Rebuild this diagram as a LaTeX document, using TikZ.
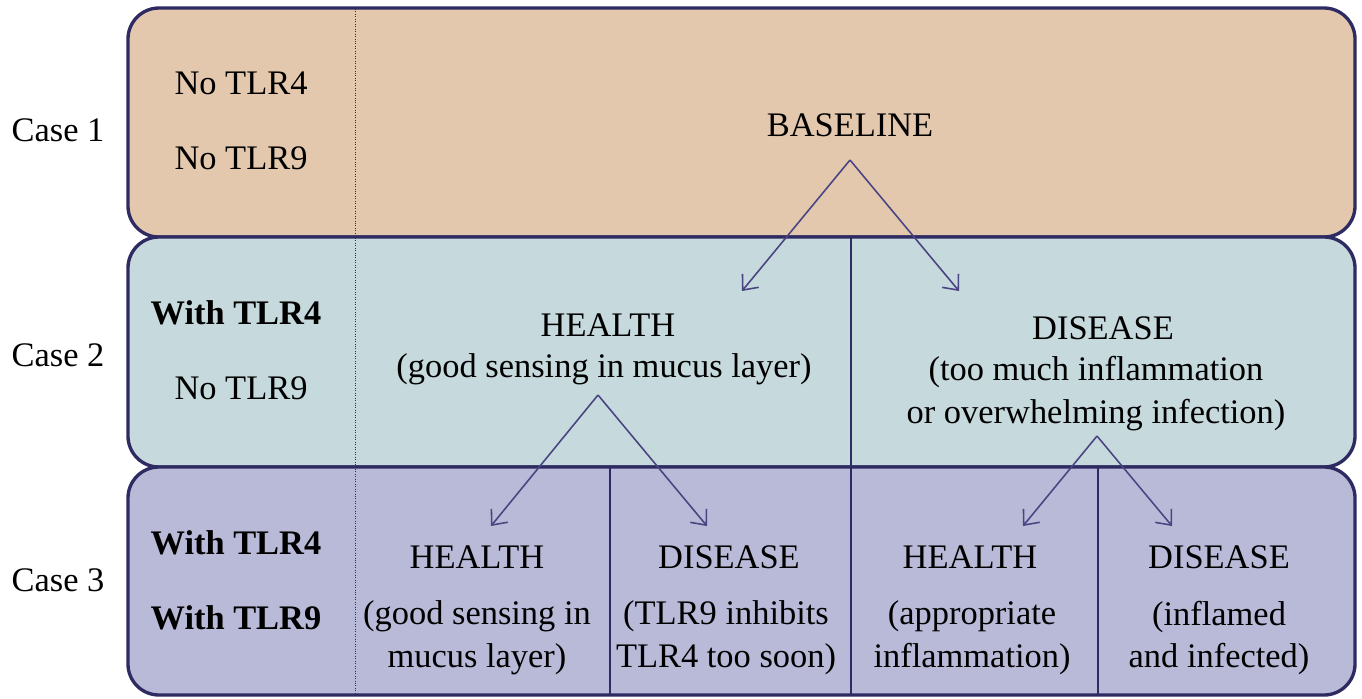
\documentclass[tikz,border=0pt]{standalone}
\usepackage{fontspec}
\setmainfont{Liberation Serif}
\usepackage{xcolor}
\usepackage{tikz}
\usetikzlibrary{arrows.meta}

\definecolor{rimnavy}{HTML}{2E2A62}
\definecolor{arrownavy}{HTML}{4A4582}
\definecolor{peach}{HTML}{E3C8AD}
\definecolor{mist}{HTML}{C6D9DC}
\definecolor{lavender}{HTML}{B9BAD8}

\tikzset{
  casebox/.style={draw=rimnavy, line width=1.9pt, rounded corners=0.62cm},
  divider/.style={draw=rimnavy, line width=1.1pt},
  txt/.style={font=\fontsize{19.6}{24.4}\selectfont, inner sep=0pt, align=center},
  branch/.style={draw=arrownavy, line width=0.9pt, -{Straight Barb[length=7pt,width=12pt]}},
}

\begin{document}
\begin{tikzpicture}[x=0.02cm, y=-0.02cm]
\useasboundingbox (0,0) rectangle (1362,698);

\draw[casebox, fill=peach] (128,8) rectangle (1355,237);
\draw[casebox, fill=mist] (128,237) rectangle (1355,467);
\draw[casebox, fill=lavender] (128,467) rectangle (1355,695);

\draw[rimnavy, line width=0.4pt, densely dotted] (355,9) -- (355,694);
\draw[divider] (851,237) -- (851,694);
\draw[divider] (610,467) -- (610,694);
\draw[divider] (1098,467) -- (1098,694);

\node[txt] (case1) at (58,130) {Case 1};
\node[txt] (case2) at (58,355) {Case 2};
\node[txt] (case3) at (58,580) {Case 3};

\node[txt] (noa) at (241,83) {No TLR4};
\node[txt] (nob) at (241,158) {No TLR9};
\node[txt, font=\fontsize{19.6}{24.4}\selectfont\bfseries] (witha) at (236,313) {With TLR4};
\node[txt] (noc) at (241,388) {No TLR9};
\node[txt, font=\fontsize{19.6}{24.4}\selectfont\bfseries] (withb) at (236,543) {With TLR4};
\node[txt, font=\fontsize{19.6}{24.4}\selectfont\bfseries] (withc) at (236,618) {With TLR9};

\node[txt] (baseline) at (850,125) {BASELINE};

\node[txt] (health) at (608,325) {HEALTH};
\node[txt] (healthnote) at (604,369) {(good sensing in mucus layer)};
\node[txt] (disease) at (1103,328) {DISEASE};
\node[txt] (diseasenote) at (1096,394) {(too much inflammation\\or overwhelming infection)};

\node[txt] (healtha) at (477,557) {HEALTH};
\node[txt] (healthanote) at (477,638) {(good sensing in\\mucus layer)};
\node[txt] (diseasea) at (729,557) {DISEASE};
\node[txt] (diseaseanote) at (726,638) {(TLR9 inhibits\\TLR4 too soon)};
\node[txt] (healthb) at (970,557) {HEALTH};
\node[txt] (healthbnote) at (972,638) {(appropriate\\inflammation)};
\node[txt] (diseaseb) at (1219,557) {DISEASE};
\node[txt] (diseasebnote) at (1219,638) {(inflamed\\and infected)};

\coordinate (baseapex) at (850,160);
\coordinate (healthtip) at (742,291);
\coordinate (diseasetip) at (959,291);
\coordinate (healthapex) at (598,395);
\coordinate (healthatip) at (491,526);
\coordinate (diseaseatip) at (707,526);
\coordinate (diseaseapex) at (1097,436);
\coordinate (healthbtip) at (1023,526);
\coordinate (diseasebtip) at (1172,526);

\draw[branch] (baseapex) -- (healthtip);
\draw[branch] (baseapex) -- (diseasetip);
\draw[branch] (healthapex) -- (healthatip);
\draw[branch] (healthapex) -- (diseaseatip);
\draw[branch] (diseaseapex) -- (healthbtip);
\draw[branch] (diseaseapex) -- (diseasebtip);

\end{tikzpicture}
\end{document}
